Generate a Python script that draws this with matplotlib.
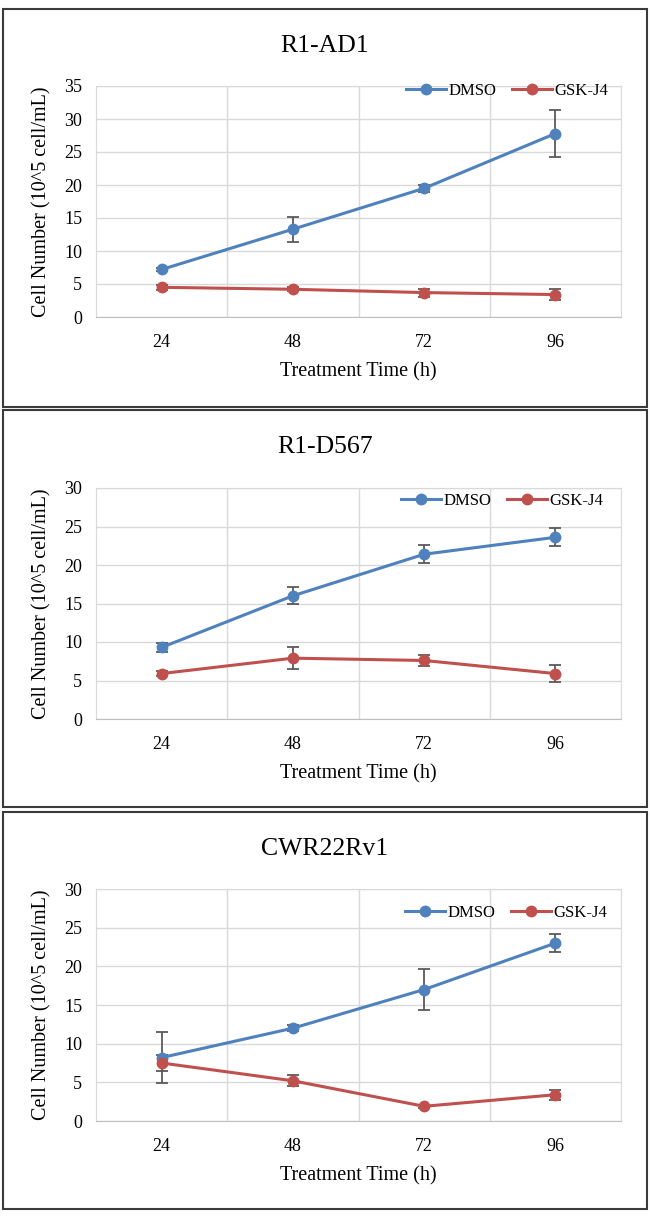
import numpy as np
import matplotlib
matplotlib.use('Agg')
import matplotlib.pyplot as plt
from matplotlib.patches import Rectangle

plt.rcParams['font.family'] = ['Liberation Serif', 'DejaVu Serif']

# treatment times (h)
times = ['24', '48', '72', '96']

# R1-AD1
ad1_dmso = [7.2, 13.3, 19.5, 27.8]
ad1_dmso_err = [0.3, 1.9, 0.5, 3.5]
ad1_gsk = [4.5, 4.2, 3.7, 3.4]
ad1_gsk_err = [0.4, 0.3, 0.6, 0.8]

# R1-D567
d567_dmso = [9.3, 16.0, 21.4, 23.6]
d567_dmso_err = [0.6, 1.1, 1.15, 1.15]
d567_gsk = [5.9, 7.9, 7.6, 5.9]
d567_gsk_err = [0.35, 1.45, 0.75, 1.05]

# CWR22Rv1
cwr_dmso = [8.2, 12.0, 17.0, 23.0]
cwr_dmso_err = [3.35, 0.4, 2.6, 1.15]
cwr_gsk = [7.5, 5.2, 1.9, 3.4]
cwr_gsk_err = [1.0, 0.7, 0.2, 0.65]

W, H = 650, 1217
blue = '#4F81BD'
red = '#C0504D'
grid_c = '#D9D9D9'

fig = plt.figure(figsize=(W / 100, H / 100), dpi=100)

# pixel layout: (title, box_top, box_bottom, ax_top, ax_bottom, ymax, legend_y, legend_right)
panels = [
    ('R1-AD1', 9, 407, 86, 317, 35, 91, 608,
     ad1_dmso, ad1_dmso_err, ad1_gsk, ad1_gsk_err),
    ('R1-D567', 410, 807, 488, 719, 30, 501, 603,
     d567_dmso, d567_dmso_err, d567_gsk, d567_gsk_err),
    ('CWR22Rv1', 812, 1209, 889, 1121, 30, 913, 607,
     cwr_dmso, cwr_dmso_err, cwr_gsk, cwr_gsk_err),
]

ax_left, ax_right = 96, 621
x = np.arange(len(times)) + 0.5

for (title, bt, bb, at, ab, ymax, ly, lr, dm, dme, gs, gse) in panels:
    # panel frame
    fig.patches.append(Rectangle((3 / W, 1 - bb / H), 644 / W, (bb - bt) / H,
                                 transform=fig.transFigure, fill=False,
                                 edgecolor='#3a3a3a', linewidth=1.5))
    fig.text(325 / W, 1 - (bt + 37) / H, title, ha='center', va='center', fontsize=18.5)

    ax = fig.add_axes([ax_left / W, 1 - ab / H, (ax_right - ax_left) / W, (ab - at) / H])
    ax.errorbar(x, dm, yerr=dme, fmt='none', ecolor='#5a5a5a', elinewidth=1.3,
                capsize=4, capthick=1.3, zorder=3)
    ax.errorbar(x, gs, yerr=gse, fmt='none', ecolor='#5a5a5a', elinewidth=1.3,
                capsize=4, capthick=1.3, zorder=3)
    ax.plot(x, dm, '-o', color=blue, lw=2.2, markersize=7.5, label='DMSO', zorder=4)
    ax.plot(x, gs, '-o', color=red, lw=2.2, markersize=7.5, label='GSK-J4', zorder=4)

    ax.set_xlim(0, 4)
    ax.set_ylim(0, ymax)
    ax.set_yticks(np.arange(0, ymax + 1, 5))
    ax.set_xticks(x)
    ax.set_xticklabels(times)
    ax.set_xticks([1, 2, 3], minor=True)
    ax.tick_params(which='both', length=0, labelsize=13)
    ax.tick_params(axis='y', pad=10)
    ax.tick_params(axis='x', pad=12)
    ax.grid(True, axis='y', color=grid_c, lw=1)
    ax.grid(True, axis='x', which='minor', color=grid_c, lw=1)
    ax.set_axisbelow(True)
    for s in ['left', 'top', 'right']:
        ax.spines[s].set_color(grid_c)
    ax.spines['bottom'].set_color('#BFBFBF')

    ax.set_xlabel('Treatment Time (h)', fontsize=14.5, labelpad=8)
    ax.set_ylabel('Cell Number (10^5 cell/mL)', fontsize=14.5)
    ax.yaxis.set_label_coords(-0.085, 0.5)

    ax.legend(loc='center right',
              bbox_to_anchor=((lr - ax_left) / (ax_right - ax_left), (ab - ly) / (ab - at)),
              ncol=2, frameon=False, fontsize=12, handlelength=2.4,
              handletextpad=0.15, columnspacing=0.9, borderpad=0, borderaxespad=0)

fig.savefig('out.png', dpi=100)
